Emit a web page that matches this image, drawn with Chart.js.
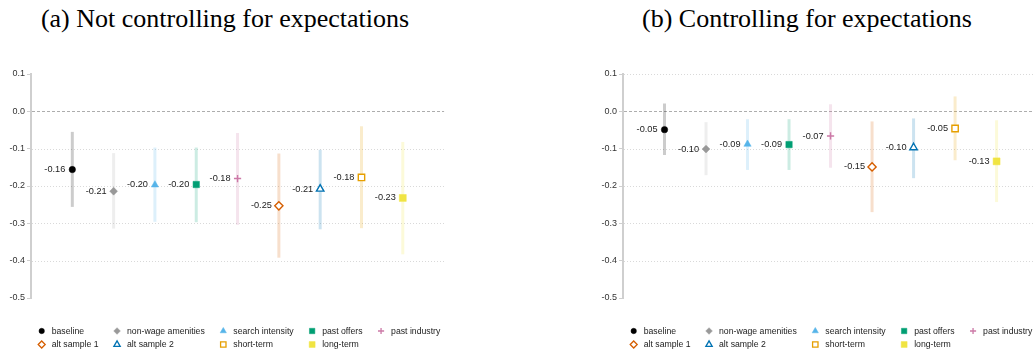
<!DOCTYPE html>
<html>
<head>
<meta charset="utf-8">
<script src="https://cdn.jsdelivr.net/npm/chart.js@4.4.1/dist/chart.umd.min.js"></script>
<style>
  html, body { margin: 0; padding: 0; background: #fff; overflow: hidden; }
  body { width: 1033px; height: 354px; position: relative; }
  .panel { position: absolute; top: 0; height: 354px; }
  .panel canvas { position: absolute; left: 0; top: 0; }
  .title {
    position: absolute; top: 6px;
    font-family: "Liberation Serif", "Times New Roman", serif;
    font-size: 26px; line-height: 26px; color: #000;
    white-space: nowrap; transform: translateX(-50%);
  }
</style>
</head>
<body>
<div class="title" style="left:225px">(a) Not controlling for expectations</div>
<div class="title" style="left:807px">(b) Controlling for expectations</div>
<div class="panel" style="left:0;width:450px"><canvas id="chartA" width="450" height="354"></canvas></div>
<div class="panel" style="left:592px;width:452px"><canvas id="chartB" width="452" height="354"></canvas></div>

<script>
// specifications, in plotting order
const categories = ["baseline", "non-wage amenities", "search intensity", "past offers", "past industry",
                    "alt sample 1", "alt sample 2", "short-term", "long-term"];

// (a) without expectations: point estimate and 95% interval
const estA  = [-0.156, -0.214, -0.197, -0.196, -0.180, -0.253, -0.208, -0.177, -0.232];
const lowA  = [-0.256, -0.314, -0.296, -0.297, -0.304, -0.392, -0.316, -0.313, -0.383];
const highA = [-0.055, -0.112, -0.097, -0.097, -0.058, -0.113, -0.103, -0.040, -0.082];

// (b) with expectations
const estB  = [-0.049, -0.101, -0.088, -0.089, -0.066, -0.149, -0.097, -0.046, -0.134];
const lowB  = [-0.117, -0.171, -0.157, -0.157, -0.151, -0.270, -0.179, -0.131, -0.243];
const highB = [0.021, -0.029, -0.021, -0.021, 0.019, -0.027, -0.019, 0.040, -0.024];

const yMin = -0.5, yMax = 0.1, yStep = 0.1;
const gridA = [0, -0.1, -0.2, -0.3, -0.4];
const gridB = [0.1, 0, -0.1, -0.2, -0.3, -0.4];

const SANS = '"Liberation Sans", Arial, sans-serif';

const markers = [
  { color: "#000000", shape: "circle",   fill: true,  r: 3.2 },
  { color: "#999999", shape: "rectRot",  fill: true,  r: 3.9 },
  { color: "#56B4E9", shape: "triangle", fill: true,  r: 4.2 },
  { color: "#009E73", shape: "rect",     fill: true,  r: 4.5 },
  { color: "#CC79A7", shape: "cross",    fill: false, r: 3.6 },
  { color: "#D55E00", shape: "rectRot",  fill: false, r: 4.1 },
  { color: "#0072B2", shape: "triangle", fill: false, r: 4.3 },
  { color: "#E69F00", shape: "rect",     fill: false, r: 4.5 },
  { color: "#F0E442", shape: "rect",     fill: true,  r: 4.9 }
];

function rgba(hex, a) {
  const n = parseInt(hex.slice(1), 16);
  return `rgba(${(n >> 16) & 255},${(n >> 8) & 255},${n & 255},${a})`;
}

function buildDatasets(est, low, high) {
  const sets = [];
  categories.forEach((name, i) => {
    const m = markers[i];
    sets.push({
      label: name + " ci",
      data: [{ x: i + 1, y: low[i] }, { x: i + 1, y: high[i] }],
      showLine: true,
      borderColor: rgba(m.color === "#999999" ? "#aaaaaa" : m.color, 0.2),
      borderWidth: 3,
      borderCapStyle: "butt",
      pointRadius: 0,
      order: 1
    });
    sets.push({
      label: name,
      isEstimate: true,
      data: [{ x: i + 1, y: est[i] }],
      pointStyle: m.shape,
      pointRadius: m.r,
      backgroundColor: m.fill ? m.color : "#ffffff",
      borderColor: m.color,
      pointBorderWidth: m.fill ? 0.5 : 1.4,
      order: 0
    });
  });
  return sets;
}

// dotted reference lines, dashed at zero
const gridLines = {
  id: "gridLines",
  beforeDatasetsDraw(chart, args, opts) {
    const { ctx, chartArea } = chart;
    const y = chart.scales.y;
    ctx.save();
    opts.values.forEach(v => {
      const py = Math.round(y.getPixelForValue(v)) + 0.5;
      ctx.beginPath();
      if (v === 0) {
        ctx.setLineDash([3, 2]);
        ctx.strokeStyle = "#adadad";
      } else {
        ctx.setLineDash([1, 2]);
        ctx.strokeStyle = "#d9d9d9";
      }
      ctx.lineWidth = 1;
      ctx.moveTo(chartArea.left + 1, py);
      ctx.lineTo(chartArea.right, py);
      ctx.stroke();
    });
    ctx.restore();
  }
};

// value labels to the left of each estimate
const valueLabels = {
  id: "valueLabels",
  afterDatasetsDraw(chart) {
    const { ctx } = chart;
    ctx.save();
    ctx.font = "9.2px " + SANS;
    ctx.fillStyle = "#222";
    ctx.textAlign = "right";
    ctx.textBaseline = "middle";
    chart.data.datasets.forEach((ds, i) => {
      if (!ds.isEstimate) return;
      const pt = chart.getDatasetMeta(i).data[0];
      ctx.fillText(ds.data[0].y.toFixed(2), pt.x - 7, pt.y);
    });
    ctx.restore();
  }
};

// two-row legend laid out in columns
const columnLegend = {
  id: "columnLegend",
  afterDraw(chart) {
    const { ctx, chartArea } = chart;
    const cols = 5;
    ctx.save();
    ctx.font = "8.7px " + SANS;
    const widths = [];
    categories.forEach((name, i) => {
      const c = i % cols;
      widths[c] = Math.max(widths[c] || 0, ctx.measureText(name).width);
    });
    const rowY = [331, 344.5];
    let x = chartArea.left + 10.7;
    const colX = [];
    for (let c = 0; c < cols; c++) {
      colX.push(x);
      x += 10 + widths[c] + 18.5;
    }
    categories.forEach((name, i) => {
      const m = markers[i];
      const mx = colX[i % cols];
      const my = rowY[Math.floor(i / cols)];
      ctx.fillStyle = m.fill ? m.color : "#ffffff";
      ctx.strokeStyle = m.color;
      ctx.lineWidth = m.fill ? 0.5 : 1.3;
      Chart.helpers.drawPoint(ctx, {
        pointStyle: m.shape, radius: m.r * 0.85, rotation: 0, borderWidth: ctx.lineWidth
      }, mx, my);
      ctx.fillStyle = "#222";
      ctx.textAlign = "left";
      ctx.textBaseline = "middle";
      ctx.fillText(name, mx + 10, my + 0.5);
    });
    ctx.restore();
  }
};

function makeChart(id, est, low, high, grid) {
  return new Chart(document.getElementById(id), {
    type: "scatter",
    data: { datasets: buildDatasets(est, low, high) },
    options: {
      responsive: false,
      animation: false,
      devicePixelRatio: 1,
      layout: { padding: { top: 74, bottom: 56, left: 0, right: 2 } },
      scales: {
        x: { type: "linear", min: 0, max: categories.length + 1, display: false },
        y: {
          min: yMin,
          max: yMax,
          ticks: {
            stepSize: yStep,
            color: "#333",
            padding: 2,
            font: { size: 9, family: SANS },
            callback: v => (Math.abs(v) < 1e-9 ? "0.0" : v.toFixed(1))
          },
          grid: { drawOnChartArea: false, drawTicks: true, tickLength: 4, tickColor: "#cfcfcf", tickWidth: 1 },
          border: { display: true, color: "#cfcfcf", width: 2 },
          afterFit: s => { s.width = 31; }
        }
      },
      plugins: {
        legend: { display: false },
        tooltip: { enabled: false },
        gridLines: { values: grid }
      }
    },
    plugins: [gridLines, valueLabels, columnLegend]
  });
}

makeChart("chartA", estA, lowA, highA, gridA);
makeChart("chartB", estB, lowB, highB, gridB);
</script>
</body>
</html>
